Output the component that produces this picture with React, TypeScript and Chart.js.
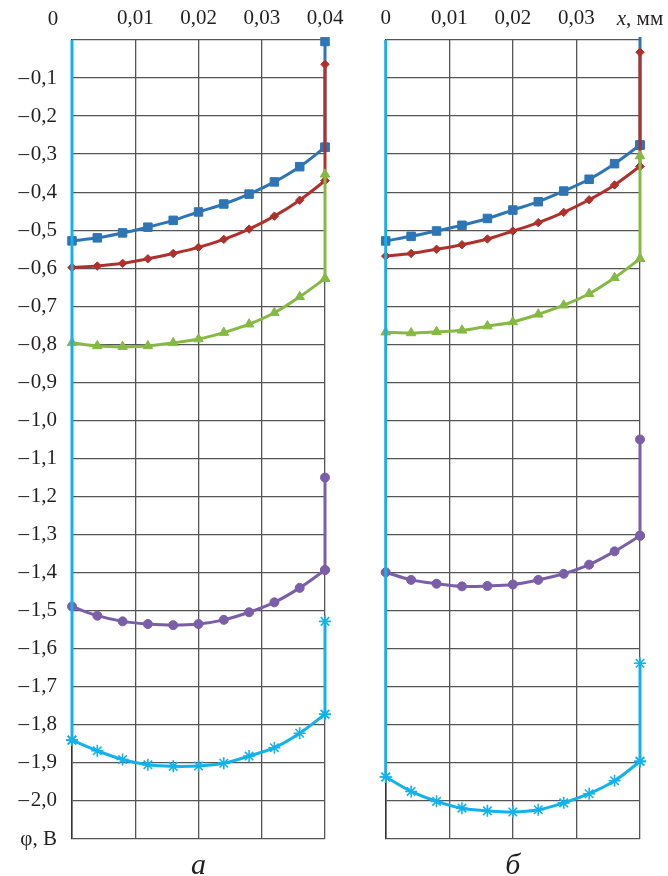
import React, { useEffect, useRef } from 'react';
import { Chart, registerables } from 'chart.js';
Chart.register(...registerables);

// x positions of measured points, mm
const X = [0, 0.004, 0.008, 0.012, 0.016, 0.02, 0.024, 0.028, 0.032, 0.036, 0.04];
const X_TICKS = [0, 0.01, 0.02, 0.03, 0.04];
const Y_TICKS = [0, -0.1, -0.2, -0.3, -0.4, -0.5, -0.6, -0.7, -0.8, -0.9, -1.0, -1.1, -1.2, -1.3, -1.4, -1.5, -1.6, -1.7, -1.8, -1.9, -2.0, -2.1];
const Y_AXIS_NAME = 'φ, В';
const X_AXIS_NAME_ITALIC = 'x';
const X_AXIS_NAME_REST = ', мм';
const PANEL_A = 'а';
const PANEL_B = 'б';

// panel а
const A_BLUE = [-0.528, -0.520, -0.507, -0.492, -0.474, -0.452, -0.431, -0.405, -0.373, -0.333, -0.282];
const A_BLUE_END = -0.004;
const A_RED = [-0.598, -0.594, -0.587, -0.575, -0.561, -0.545, -0.524, -0.497, -0.463, -0.421, -0.370];
const A_RED_END = -0.064;
const A_GREEN = [-0.796, -0.804, -0.806, -0.804, -0.796, -0.786, -0.769, -0.747, -0.717, -0.675, -0.627];
const A_GREEN_END = -0.353;
const A_PURPLE = [-1.489, -1.513, -1.528, -1.535, -1.538, -1.535, -1.524, -1.504, -1.478, -1.440, -1.393];
const A_PURPLE_END = -1.150;
const A_CYAN = [-1.840, -1.868, -1.891, -1.905, -1.909, -1.908, -1.901, -1.882, -1.860, -1.822, -1.772];
const A_CYAN_END = -1.528;

// panel б
const B_BLUE = [-0.528, -0.516, -0.502, -0.487, -0.469, -0.447, -0.425, -0.397, -0.366, -0.325, -0.276];
const B_BLUE_END = 0.03;
const B_RED = [-0.568, -0.561, -0.550, -0.538, -0.523, -0.502, -0.480, -0.453, -0.420, -0.381, -0.332];
const B_RED_END = -0.032;
const B_GREEN = [-0.768, -0.770, -0.767, -0.763, -0.752, -0.741, -0.721, -0.697, -0.667, -0.625, -0.575];
const B_GREEN_END = -0.305;
const B_PURPLE = [-1.399, -1.419, -1.429, -1.436, -1.435, -1.431, -1.419, -1.403, -1.379, -1.344, -1.303];
const B_PURPLE_END = -1.050;
const B_CYAN = [-1.937, -1.975, -2.001, -2.019, -2.026, -2.029, -2.023, -2.005, -1.981, -1.947, -1.896];
const B_CYAN_END = -1.638;

const CYAN_START = 0;

const FONT = "'Liberation Serif', 'Times New Roman', serif";
const TEXT = '#231F20';
const GRID = '#555555';

type Style = { color: string; point: any; r: number; pbw: number };
const BLUE: Style = { color: '#2E75B6', point: 'rect', r: 6, pbw: 1 };
const RED: Style = { color: '#B0302C', point: 'rectRot', r: 4.2, pbw: 1 };
const GREEN: Style = { color: '#86B944', point: 'triangle', r: 5.5, pbw: 1 };
const PURPLE: Style = { color: '#7A5EA8', point: 'circle', r: 4.5, pbw: 1 };
const CYAN: Style = { color: '#12B2EC', point: 'star', r: 6, pbw: 1.6 };

const CLIP = { left: 8, right: 8, top: 3, bottom: 3 };

function ds(data: { x: number; y: number }[], s: Style, tension: number, radii?: number[]) {
  return {
    data,
    showLine: true,
    tension,
    clip: CLIP,
    borderColor: s.color,
    backgroundColor: s.color,
    borderWidth: 3,
    pointStyle: s.point,
    pointRadius: radii ?? s.r,
    pointBorderColor: s.color,
    pointBackgroundColor: s.color,
    pointBorderWidth: s.pbw,
  };
}

function series(ys: number[], end: number, s: Style) {
  const last = X.length - 1;
  return [
    ds(X.map((x, i) => ({ x, y: ys[i] })), s, 0.35),
    ds([{ x: X[last], y: ys[last] }, { x: X[last], y: end }], s, 0),
  ];
}

function cyanLeft(ys: number[]) {
  return ds([{ x: X[0], y: CYAN_START }, { x: X[0], y: ys[0] }], CYAN, 0, [0, CYAN.r]);
}

const fmt = (v: number) => {
  if (Math.abs(v) < 1e-9) return '0';
  const a = Math.abs(v);
  const oneDec = Math.abs(Math.round(a * 10) - a * 10) < 1e-6;
  const s = a.toFixed(oneDec ? 1 : 2).replace('.', ',');
  return (v < 0 ? '–\u200A' : '') + s;
};

function makeConfig(panel: 'a' | 'b', ys: any) {
  const isA = panel === 'a';
  const datasets = [
    cyanLeft(ys.cyan),
    ...series(ys.cyan, ys.cyanEnd, CYAN),
    ...series(ys.purple, ys.purpleEnd, PURPLE),
    ...series(ys.green, ys.greenEnd, GREEN),
    ...series(ys.red, ys.redEnd, RED),
    ...series(ys.blue, ys.blueEnd, BLUE),
  ];
  const textPlugin = {
    id: 'texts' + panel,
    afterDraw(chart: any) {
      const ctx = chart.ctx;
      const { left, right, top, bottom } = chart.chartArea;
      const xs = chart.scales.x;
      ctx.save();
      ctx.fillStyle = TEXT;
      ctx.textBaseline = 'middle';
      ctx.textAlign = 'center';
      if (isA) {
        ctx.font = `21px ${FONT}`;
        ctx.fillText('0', xs.getPixelForValue(0) - 19, top - 21);
      } else {
        ctx.font = `italic 21px ${FONT}`;
        const w1 = ctx.measureText(X_AXIS_NAME_ITALIC).width;
        ctx.font = `21px ${FONT}`;
        const w2 = ctx.measureText(X_AXIS_NAME_REST).width;
        const cx = xs.getPixelForValue(0.04);
        const x0 = cx - (w1 + w2) / 2;
        ctx.textAlign = 'left';
        ctx.font = `italic 21px ${FONT}`;
        ctx.fillText(X_AXIS_NAME_ITALIC, x0, top - 21);
        ctx.font = `21px ${FONT}`;
        ctx.fillText(X_AXIS_NAME_REST, x0 + w1, top - 21);
        ctx.textAlign = 'center';
      }
      ctx.font = `italic 30px ${FONT}`;
      ctx.fillText(isA ? PANEL_A : PANEL_B, (left + right) / 2, bottom + 27);
      ctx.restore();
    },
  };
  return {
    type: 'scatter',
    data: { datasets },
    plugins: [textPlugin],
    options: {
      responsive: false,
      animation: false,
      events: [],
      layout: { padding: { left: 0, right: isA ? 35 : 28, top: 0, bottom: 37 } },
      plugins: { legend: { display: false }, tooltip: { enabled: false } },
      scales: {
        x: {
          type: 'linear',
          position: 'top',
          min: 0,
          max: 0.04,
          afterBuildTicks: (s: any) => {
            s.ticks = X_TICKS.map((v) => ({ value: v }));
          },
          afterFit: (s: any) => {
            s.height = 40;
          },
          ticks: {
            padding: 9,
            color: TEXT,
            font: { family: FONT, size: 21 },
            maxRotation: 0,
            autoSkip: false,
            callback: (v: number) => {
              if (isA && Math.abs(v) < 1e-9) return '';
              if (!isA && Math.abs(v - 0.04) < 1e-9) return '';
              return fmt(v);
            },
          },
          grid: { color: GRID, lineWidth: 1.3, drawTicks: false },
          border: { display: false },
        },
        y: {
          type: 'linear',
          min: -2.1,
          max: 0,
          afterBuildTicks: (s: any) => {
            s.ticks = Y_TICKS.map((v) => ({ value: v }));
          },
          afterFit: (s: any) => {
            s.width = isA ? 72 : 45.7;
          },
          ticks: {
            display: isA,
            padding: 15,
            color: TEXT,
            font: { family: FONT, size: 21 },
            autoSkip: false,
            callback: (v: number) => {
              if (Math.abs(v + 2.1) < 1e-9) return Y_AXIS_NAME;
              if (Math.abs(v) < 1e-9) return '';
              return fmt(v);
            },
          },
          grid: { color: GRID, lineWidth: 1.3, drawTicks: false },
          border: { display: true, color: '#333333', width: 1.5 },
        },
      },
    },
  };
}

function Panel({ panel, ys, left, width }: any) {
  const ref = useRef<HTMLCanvasElement | null>(null);
  useEffect(() => {
    const chart = new Chart(ref.current as HTMLCanvasElement, makeConfig(panel, ys) as any);
    return () => chart.destroy();
  }, []);
  return (
    <canvas
      ref={ref}
      width={width}
      height={876}
      style={{ position: 'absolute', left, top: 0, width, height: 876, display: 'block' }}
    />
  );
}

export default function App() {
  const a = {
    blue: A_BLUE, blueEnd: A_BLUE_END, red: A_RED, redEnd: A_RED_END,
    green: A_GREEN, greenEnd: A_GREEN_END, purple: A_PURPLE, purpleEnd: A_PURPLE_END,
    cyan: A_CYAN, cyanEnd: A_CYAN_END,
  };
  const b = {
    blue: B_BLUE, blueEnd: B_BLUE_END, red: B_RED, redEnd: B_RED_END,
    green: B_GREEN, greenEnd: B_GREEN_END, purple: B_PURPLE, purpleEnd: B_PURPLE_END,
    cyan: B_CYAN, cyanEnd: B_CYAN_END,
  };
  return (
    <div style={{ position: 'absolute', left: 0, top: 0, width: 668, height: 876, background: '#ffffff' }}>
      <Panel panel="a" ys={a} left={0} width={360} />
      <Panel panel="b" ys={b} left={340} width={328} />
    </div>
  );
}
